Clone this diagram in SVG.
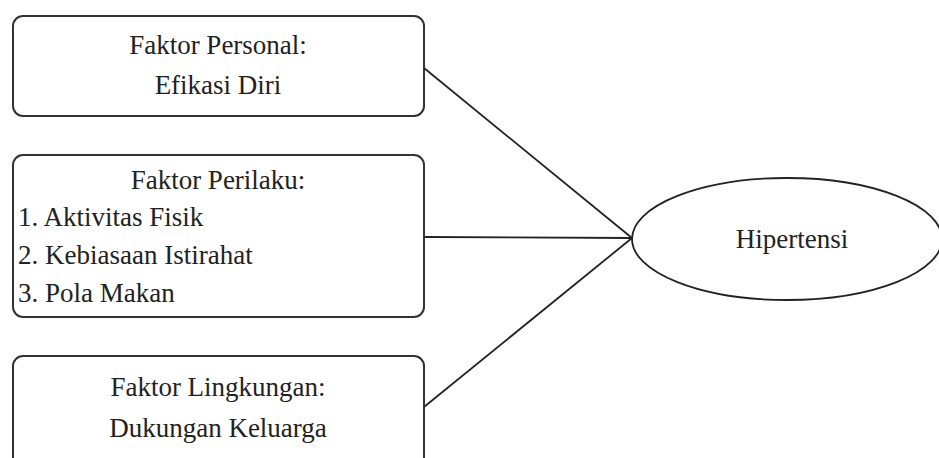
<svg xmlns="http://www.w3.org/2000/svg" width="939" height="458" viewBox="0 0 939 458">
<style>
.box{fill:#fff;stroke:#333;stroke-width:2}
.ell{fill:#fff;stroke:#222;stroke-width:1.8}
.t{font-family:"Liberation Serif","Times New Roman",Times,"Noto Serif","DejaVu Serif",FreeSerif,Tinos,serif;font-size:27px;fill:#222}
.c{text-anchor:middle}
.ln{stroke:#222;stroke-width:1.8;fill:none}
</style>
<rect width="939" height="458" fill="#fff"/>
<g id="connectors">
<line class="ln" x1="424" y1="68" x2="632" y2="238"/>
<line class="ln" x1="424" y1="237" x2="632" y2="238"/>
<line class="ln" x1="424" y1="407" x2="632" y2="238"/>
</g>
<g id="personal">
<rect class="box" x="13" y="16" width="411" height="100" rx="10"/>
<text class="t c" x="218" y="54">Faktor Personal:</text>
<text class="t c" x="218" y="94">Efikasi Diri</text>
</g>
<g id="perilaku">
<rect class="box" x="13" y="155" width="411" height="162" rx="10"/>
<text class="t c" x="218" y="189">Faktor Perilaku:</text>
<text class="t" x="18" y="226">1. Aktivitas  Fisik</text>
<text class="t" x="18" y="264">2. Kebiasaan Istirahat</text>
<text class="t" x="18" y="302">3. Pola Makan</text>
</g>
<g id="lingkungan">
<rect class="box" x="13" y="356" width="411" height="130" rx="10"/>
<text class="t c" x="218" y="396">Faktor Lingkungan:</text>
<text class="t c" x="218" y="437">Dukungan Keluarga</text>
</g>
<g id="hipertensi">
<ellipse class="ell" cx="787" cy="239" rx="155" ry="61"/>
<text class="t c" x="792" y="248">Hipertensi</text>
</g>
</svg>
